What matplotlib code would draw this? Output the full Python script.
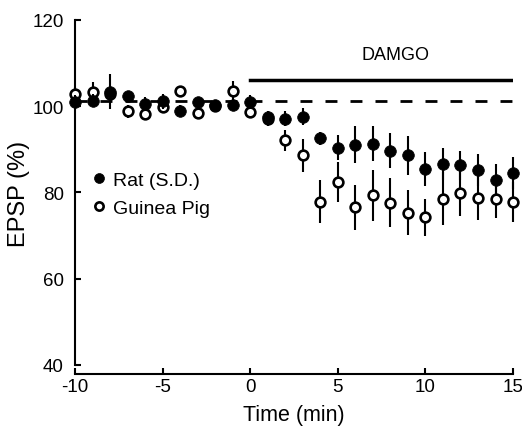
import numpy as np
import matplotlib
matplotlib.use('Agg')
import matplotlib.pyplot as plt

plt.rcParams['font.family'] = ['Liberation Sans', 'DejaVu Sans']
plt.rcParams['lines.scale_dashes'] = False
plt.rcParams['axes.unicode_minus'] = False

# time (min)
time = np.arange(-10, 16)

# EPSP (% of baseline)
rat = [101.0, 101.3, 103.4, 102.3, 100.6, 101.1, 99.0, 100.9, 100.2, 100.2,
       101.0, 97.5, 97.1, 97.6, 92.6, 90.4, 91.1, 91.3, 89.7, 88.6,
       85.5, 86.7, 86.3, 85.3, 83.0, 84.6]
rat_err = [1.5, 1.5, 4.0, 1.2, 1.5, 1.8, 1.2, 1.2, 1.0, 1.2,
           1.5, 1.5, 1.8, 2.0, 1.5, 2.9, 4.2, 4.0, 4.0, 4.5,
           3.9, 3.7, 3.3, 3.7, 3.7, 3.7]

guinea = [102.9, 103.4, 102.8, 98.8, 98.2, 99.8, 103.5, 98.5, 100.0, 103.6,
          98.6, 97.0, 92.1, 88.6, 77.9, 82.4, 76.6, 79.3, 77.6, 75.3,
          74.2, 78.6, 79.9, 78.8, 78.6, 77.8]
guinea_err = [1.5, 2.3, 1.5, 1.5, 1.5, 1.2, 1.2, 1.5, 1.0, 2.3,
              1.2, 1.5, 2.5, 3.8, 4.9, 4.6, 5.2, 5.9, 5.7, 5.2,
              4.2, 6.2, 5.4, 5.2, 4.6, 4.7]

baseline = 101.1
damgo_start, damgo_end, damgo_level = 0, 15, 106.1

fig = plt.figure(figsize=(5.22, 4.27), dpi=100)
ax = fig.add_axes([0.1437, 0.1429, 0.8391, 0.808])

# baseline and drug application bar
ax.plot([-10, 15], [baseline, baseline], color='black', lw=2, dashes=(8.6, 9.4), zorder=1)
ax.plot([damgo_start, damgo_end], [damgo_level, damgo_level], color='black', lw=2.5, zorder=1)
ax.text(8.3, 112.1, 'DAMGO', ha='center', va='center', fontsize=13)

gp = ax.errorbar(time, guinea, yerr=guinea_err, fmt='o', color='black', ecolor='black',
                 elinewidth=1.5, capsize=0, ms=7, mfc='white', mec='black', mew=1.9,
                 label='Guinea Pig', zorder=3)
rt = ax.errorbar(time, rat, yerr=rat_err, fmt='o', color='black', ecolor='black',
                 elinewidth=1.5, capsize=0, ms=8.4, mfc='black', mec='black', mew=0.5,
                 label='Rat (S.D.)', zorder=4)
for c in (gp, rt):
    for art in c.get_children():
        art.set_clip_on(False)

ax.set_xlim(-10, 15)
ax.set_ylim(40, 120)
ax.set_xticks([-10, -5, 0, 5, 10, 15])
ax.set_yticks([40, 60, 80, 100, 120])

for s in ['top', 'right']:
    ax.spines[s].set_visible(False)
for s in ['left', 'bottom']:
    ax.spines[s].set_linewidth(1.5)
ax.spines['bottom'].set_position(('outward', 6.5))

ax.tick_params(axis='both', direction='in', length=4, width=1.5, labelsize=13.5)
ax.tick_params(axis='y', pad=8)
ax.tick_params(axis='x', pad=3)

ax.set_xlabel('Time (min)', fontsize=15.5, labelpad=6)
ax.set_ylabel('EPSP (%)', fontsize=17, labelpad=2)

ax.legend(handles=[rt[0], gp[0]], labels=['Rat (S.D.)', 'Guinea Pig'],
          loc='upper left', bbox_to_anchor=(0.02, 0.59), frameon=False,
          fontsize=14, handlelength=0.6, handletextpad=0.4, labelspacing=0.55,
          borderpad=0, markerscale=0.85)

fig.savefig('out.png', dpi=100)
